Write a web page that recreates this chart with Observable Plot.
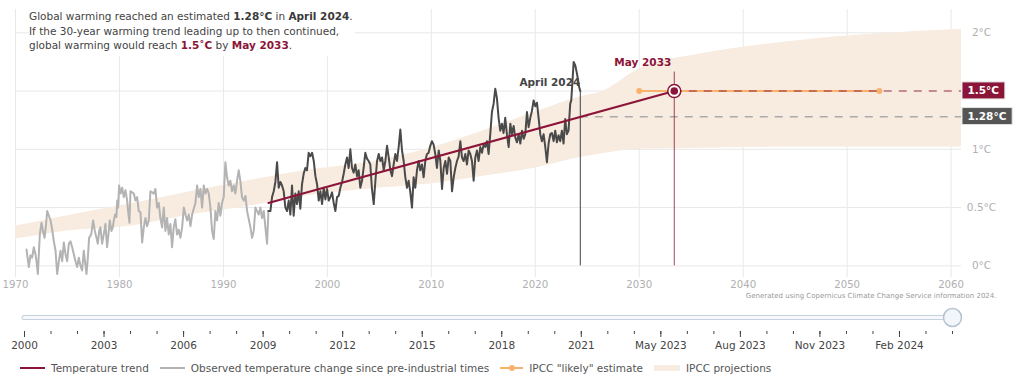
<!DOCTYPE html>
<html><head><meta charset="utf-8">
<script src="https://cdn.jsdelivr.net/npm/d3@7"></script>
<script src="https://cdn.jsdelivr.net/npm/@observablehq/plot@0.6"></script>
<style>
body{margin:0;background:#fff;font-family:"DejaVu Sans",Verdana,sans-serif;}
#wrap{position:relative;width:1024px;height:386px;overflow:hidden;background:#fff}
#main svg,#slider svg{display:block}
#note{position:absolute;left:29px;top:8px;font-size:10.5px;line-height:14.5px;color:#444;background:#fff;padding:1px 2px 3px 0;white-space:nowrap}
#note b{color:#3a3a3a}
#note b.r{color:#8b1538}
#legend{height:25px;display:flex;align-items:flex-start;padding-left:20px;font-size:10.5px;line-height:14px;color:#555;white-space:nowrap}
#legend .it{display:flex;align-items:center;margin-right:11px}
#legend .sw{width:25px;height:14px;margin-right:6px;position:relative}
#legend .sw i{position:absolute;left:0;right:0;top:6px;height:2px}
#legend .sw em{position:absolute;left:9px;top:4px;width:6px;height:6px;border-radius:50%}
#legend .sw s{position:absolute;left:0;right:0;top:4px;height:6px}
</style></head>
<body>
<div id="wrap">
  <div id="main"></div>
  <div id="note">Global warming reached an estimated <b>1.28°C</b> in <b>April 2024</b>.<br>If the 30-year warming trend leading up to then continued,<br>global warming would reach <b class="r">1.5˚C</b> by <b class="r">May 2033</b>.</div>
  <div id="slider"></div>
  <div id="legend"></div>
</div>
<script>
// ---------- data ----------
const obsYear = [
1971.06,1971.28,1971.44,1971.6,1971.76,1971.92,1972.02,1972.15,1972.34,1972.5,1972.66,1972.79,1972.92,
1973.05,1973.21,1973.37,1973.53,1973.69,1973.85,1974.01,1974.17,1974.33,1974.49,1974.65,1974.81,1974.97,
1975.13,1975.29,1975.45,1975.61,1975.77,1975.93,1976.09,1976.25,1976.41,1976.57,1976.83,1976.96,
1977.08,1977.28,1977.47,1977.63,1977.79,1977.92,1978.05,1978.17,1978.33,1978.49,1978.65,1978.81,1978.94,
1979.07,1979.23,1979.36,1979.46,1979.58,1979.71,1979.78,1979.87,1979.97,1980.1,1980.26,1980.42,1980.58,1980.74,1980.83,1980.96,
1981.06,1981.22,1981.38,1981.54,1981.70,1981.86,1982.02,1982.18,1982.34,1982.5,1982.66,1982.82,1982.98,
1983.14,1983.30,1983.46,1983.62,1983.78,1983.94,1984.1,1984.26,1984.42,1984.58,1984.74,1984.9,
1985.06,1985.22,1985.38,1985.54,1985.70,1985.86,1986.03,1986.19,1986.35,1986.51,1986.67,1986.83,1986.99,
1987.15,1987.31,1987.47,1987.63,1987.79,1987.95,1988.11,1988.27,1988.43,1988.59,1988.75,1988.91,
1989.07,1989.23,1989.39,1989.55,1989.71,1989.87,1990.03,1990.19,1990.35,1990.51,1990.67,1990.83,1990.99,
1991.15,1991.31,1991.47,1991.63,1991.79,1991.96,1992.12,1992.28,1992.44,1992.6,1992.76,1992.92,1993.08,
1993.4,1993.56,1993.72,1993.88,1994.04,1994.2,1994.33,
1994.52,1994.68,1994.84,1995.0,1995.16,1995.32,1995.48,1995.64,1995.8,1995.96,1996.12,1996.28,1996.44,1996.6,1996.76,1996.92,
1997.08,1997.24,1997.4,1997.56,1997.72,1997.88,1998.04,1998.2,1998.36,1998.53,1998.69,1998.85,
1999.01,1999.17,1999.33,1999.49,1999.65,1999.81,1999.97,2000.13,2000.29,2000.45,2000.61,2000.77,2000.93,
2001.09,2001.25,2001.41,2001.57,2001.73,2001.89,2002.05,2002.21,2002.37,2002.53,2002.69,2002.85,
2003.01,2003.17,2003.33,2003.49,2003.65,2003.81,2003.97,
2004.13,2004.29,2004.46,2004.62,2004.78,2004.94,2005.1,2005.26,2005.42,2005.58,2005.74,2005.9,
2006.06,2006.22,2006.38,2006.54,2006.7,2006.86,2007.02,2007.18,2007.34,2007.5,2007.66,2007.82,2007.98,
2008.14,2008.3,2008.46,2008.62,2008.78,2008.94,2009.1,2009.26,2009.42,2009.58,2009.74,2009.9,
2010.06,2010.22,2010.38,2010.54,2010.71,2010.87,2011.03,2011.19,2011.35,2011.51,2011.67,2011.83,2011.99,
2012.15,2012.31,2012.47,2012.63,2012.79,2012.95,2013.11,2013.27,2013.43,2013.59,2013.75,2013.91,
2014.07,2014.23,2014.39,2014.55,2014.71,2014.87,2015.03,
2015.19,2015.35,2015.51,2015.67,2015.83,2015.99,2016.15,2016.31,2016.47,2016.63,2016.79,2016.95,
2017.11,2017.27,2017.44,2017.6,2017.76,2017.92,2018.08,2018.24,2018.4,2018.56,2018.72,2018.88,
2019.04,2019.2,2019.36,2019.52,2019.68,2019.84,2020.0,2020.16,2020.32,2020.48,2020.64,2020.8,2020.96,
2021.12,2021.28,2021.44,2021.6,2021.76,2021.92,2022.08,2022.24,2022.4,2022.56,2022.72,2022.88,
2023.04,2023.2,2023.36,2023.46,2023.59,2023.69,2023.85,2024.01,2024.1,2024.23,2024.33
];
const obsValue = [
0.14,-0.01,0.09,0.07,0.16,0.10,0.04,-0.07,0.27,0.37,0.29,0.24,0.34,
0.47,0.43,0.39,0.31,0.21,0.13,-0.07,0.04,0.13,0.04,0.20,0.10,0.04,
0.19,0.21,0.16,0.10,0.04,-0.01,0.07,0.00,-0.04,0.13,-0.07,0.07,
0.24,0.27,0.39,0.30,0.24,0.19,0.30,0.33,0.19,0.27,0.36,0.16,0.27,
0.39,0.30,0.33,0.39,0.44,0.42,0.56,0.50,0.69,0.62,0.67,0.59,0.65,0.56,0.47,0.37,
0.64,0.63,0.62,0.56,0.59,0.47,0.46,0.20,0.33,0.41,0.34,0.39,0.64,
0.63,0.62,0.66,0.50,0.54,0.41,0.33,0.50,0.30,0.41,0.27,0.36,
0.16,0.33,0.40,0.27,0.31,0.24,0.33,0.50,0.44,0.39,0.44,0.34,0.44,
0.49,0.54,0.69,0.59,0.66,0.50,0.69,0.62,0.66,0.62,0.50,0.30,
0.23,0.47,0.39,0.54,0.43,0.54,0.59,0.89,0.76,0.69,0.73,0.64,0.69,
0.62,0.73,0.82,0.73,0.59,0.56,0.60,0.47,0.40,0.33,0.24,0.30,0.50,
0.44,0.50,0.41,0.47,0.33,0.19,0.47,
0.47,0.59,0.64,0.72,0.89,0.67,0.72,0.69,0.64,0.50,0.47,0.56,0.44,0.69,0.43,0.62,
0.53,0.64,0.49,0.70,0.79,0.84,0.82,0.97,0.94,0.97,0.90,0.77,
0.70,0.56,0.64,0.53,0.67,0.57,0.66,0.56,0.59,0.63,0.54,0.47,0.59,
0.60,0.67,0.72,0.79,0.87,0.93,0.84,1.00,0.84,0.80,0.87,0.77,
0.82,0.67,0.73,0.84,0.97,0.92,0.90,
0.87,0.66,0.53,0.73,0.90,0.96,0.90,0.93,0.82,0.90,1.03,0.93,
0.82,0.77,0.87,0.96,0.90,1.02,1.17,0.99,0.90,0.76,0.67,0.73,0.63,
0.50,0.76,0.67,0.82,0.90,0.82,0.87,0.76,0.90,0.96,0.97,1.03,
1.07,1.04,0.96,0.84,0.99,0.90,0.66,0.84,0.90,0.79,0.93,0.90,0.64,
0.76,0.84,0.90,0.94,1.07,0.93,0.90,0.96,0.87,0.99,0.96,0.90,
0.73,0.93,0.99,0.90,1.02,0.97,1.04,
1.02,1.07,0.96,1.13,1.32,1.39,1.52,1.44,1.27,1.16,1.22,1.14,
1.27,1.13,1.02,1.22,1.13,1.20,1.10,1.06,1.13,1.05,1.16,1.09,
1.13,1.32,1.19,1.27,1.33,1.42,1.37,1.40,1.27,1.13,1.07,1.13,1.02,
0.89,1.05,1.13,1.14,1.07,1.16,1.06,1.12,1.07,1.16,1.05,1.26,
1.13,1.16,1.39,1.42,1.60,1.75,1.72,1.65,1.60,1.53,1.50
];
const splitYear = 1994.33;            // start of the 30-year trend window
const trendYear = [1994.33, 2033.37];
const trendValue = [0.54, 1.5];
const likelyYear = [2030.0, 2053.1];   // IPCC "likely" range for 1.5°C
const likelyValue = [1.5, 1.5];
const targetYear = 2033.37, targetValue = 1.5, targetLabel = "May 2033";
const latestYear = 2024.33, latestTrend = 1.28, latestLabel = "April 2024";
const bandYear = [1970, 1975, 1981, 1987, 1993, 1998, 2004, 2009.5, 2015, 2020, 2024.3, 2026.3, 2030, 2036, 2045, 2061];
const bandLow  = [0.23, 0.30, 0.34, 0.44, 0.52, 0.60, 0.66, 0.70, 0.77, 0.84, 0.93, 0.96, 1.00, 1.01, 1.02, 1.02];
const bandHigh = [0.34, 0.43, 0.53, 0.64, 0.74, 0.82, 0.89, 1.00, 1.16, 1.32, 1.45, 1.49, 1.69, 1.82, 1.93, 2.03];
const badgeLabels = ["1.5°C", "1.28°C"];
const badgeValues = [1.5, 1.28];
const badgeColors = ["#8b1538", "#555555"];
const xDomain = [1970, 2061];
const decadeTicks = [1970, 1980, 1990, 2000, 2010, 2020, 2030, 2040, 2050, 2060];
const yGrid = [0, 0.5, 1, 1.5, 2];
const yTicks = [0, 0.5, 1, 2];           // 1.5 is covered by its badge
const yTickLabels = ["0°C", "0.5°C", "1°C", "2°C"];
const sliderNames = ["2000","2001","2002","2003","2004","2005","2006","2007","2008","2009","2010","2011","2012",
  "2013","2014","2015","2016","2017","2018","2019","2020","2021","2022","Apr 2023","May 2023","Jun 2023",
  "Jul 2023","Aug 2023","Sep 2023","Oct 2023","Nov 2023","Dec 2023","Jan 2024","Feb 2024","Mar 2024","Apr 2024"];
const sliderLabelEvery = 3;
const caption = "Generated using Copernicus Climate Change Service information 2024.";
const legendItems = ["Temperature trend", "Observed temperature change since pre-industrial times", "IPCC \"likely\" estimate", "IPCC projections"];

// ---------- build ----------
const RED = "#8b1538", DARK = "#4a4a4a", GREY = "#b3b3b3", ORANGE = "#f8b26c", BAND = "#f8ebe0";
const obs = obsYear.map((year, i) => ({year, value: obsValue[i]}));
const early = obs.filter(d => d.year <= splitYear);
const recent = obs.filter(d => d.year >= splitYear);
const last = obs[obs.length - 1];
const trend = trendYear.map((year, i) => ({year, value: trendValue[i]}));
const likely = likelyYear.map((year, i) => ({year, value: likelyValue[i]}));
const band = bandYear.map((year, i) => ({year, low: bandLow[i], high: bandHigh[i]}));
const badges = badgeLabels.map((label, i) => ({label, value: badgeValues[i], color: badgeColors[i]}));
const target = [{year: targetYear, value: targetValue, label: targetLabel}];

const main = Plot.plot({
  width: 1024, height: 305,
  marginLeft: 15, marginRight: 63, marginTop: 9, marginBottom: 28,
  x: {domain: xDomain},
  y: {domain: [-0.1, 2.2]},
  style: {fontFamily: "DejaVu Sans, Verdana, sans-serif", fontSize: "10.5px", background: "#fff"},
  marks: [
    Plot.gridX(decadeTicks, {stroke: "#e8e8e8", strokeOpacity: 1}),
    Plot.gridY(yGrid, {stroke: "#e8e8e8", strokeOpacity: 1}),
    Plot.areaY(band, {x: "year", y1: "low", y2: "high", fill: BAND, curve: "monotone-x"}),
    Plot.text([last], {x: "year", y: "value", text: () => latestLabel, textAnchor: "end", dy: -8, fontWeight: "bold", fill: "#444", fontSize: 10.5}),
    Plot.ruleY([latestTrend], {x1: latestYear, x2: xDomain[1], stroke: "#aaaaaa", strokeWidth: 1.5, strokeDasharray: "8,7"}),
    Plot.line(likely, {x: "year", y: "value", stroke: ORANGE, strokeWidth: 2}),
    Plot.dot(likely, {x: "year", y: "value", r: 3, fill: ORANGE}),
    Plot.ruleY([targetValue], {x1: targetYear, x2: xDomain[1], stroke: RED, strokeOpacity: 0.6, strokeWidth: 1.5, strokeDasharray: "8,7"}),
    Plot.ruleX(target, {x: "year", y1: "value", y2: 0, insetTop: -19, stroke: RED, strokeOpacity: 0.8, strokeWidth: 1}),
    Plot.ruleX([last], {x: "year", y1: "value", y2: 0, stroke: "#3c424c", strokeWidth: 1}),
    Plot.line(early, {x: "year", y: "value", stroke: GREY, strokeWidth: 2}),
    Plot.line(recent, {x: "year", y: "value", stroke: DARK, strokeWidth: 2}),
    Plot.line(trend, {x: "year", y: "value", stroke: RED, strokeWidth: 2}),
    Plot.dot(target, {x: "year", y: "value", r: 6.5, fill: "#fff", stroke: RED, strokeWidth: 1.5}),
    Plot.dot(target, {x: "year", y: "value", r: 3.8, fill: RED}),
    Plot.text(target, {x: "year", y: "value", text: "label", textAnchor: "end", dx: -3, dy: -28, fontWeight: "bold", fill: RED, fontSize: 10.5}),
    Plot.text(badges, {x: () => xDomain[1], y: "value", text: "label", textAnchor: "start", dx: 6, fill: "#fff", fontWeight: "bold", fontSize: 10.5}),
    Plot.axisX(decadeTicks, {anchor: "bottom", tickSize: 0, tickPadding: 3, tickFormat: "d", fill: "#b0b0b0", fontSize: 10.2, label: null}),
    Plot.axisY(yTicks, {anchor: "right", tickSize: 0, tickPadding: 20, textAnchor: "middle", tickFormat: (d) => yTickLabels[yTicks.indexOf(d)], fill: "#b0b0b0", fontSize: 10.5, label: null}),
    Plot.text([caption], {frameAnchor: "bottom-right", text: d => d, textAnchor: "end", dx: 35, dy: 20, fontSize: 7, fill: "#9a9a9a"})
  ]
});
document.getElementById("main").appendChild(main);

// badge backgrounds: a rect behind each white badge label
Array.from(main.querySelectorAll("text")).forEach(t => {
  const i = badgeLabels.indexOf(t.textContent);
  if (i < 0) return;
  const bb = t.getBBox();
  const r = document.createElementNS("http://www.w3.org/2000/svg", "rect");
  r.setAttribute("x", bb.x - 5.5);
  r.setAttribute("y", bb.y - 2.5);
  r.setAttribute("width", bb.width + 11);
  r.setAttribute("height", bb.height + 5);
  r.setAttribute("fill", badgeColors[i]);
  r.setAttribute("stroke", "#e4e4e4");
  r.setAttribute("stroke-width", 1);
  const tr = t.getAttribute("transform");
  if (tr) r.setAttribute("transform", tr);
  t.parentNode.insertBefore(r, t);
});

// ---------- range slider ----------
const idx = sliderNames.map((_, i) => i);
const majorIdx = idx.filter(i => i % sliderLabelEvery === 0 && i < idx.length - 1);
const handle = [{i: idx.length - 1, v: 1}];
const slider = Plot.plot({
  width: 1024, height: 56,
  marginLeft: 24, marginRight: 72, marginTop: 12, marginBottom: 30,
  x: {domain: [0, idx.length - 1]},
  y: {domain: [0, 1], axis: null},
  style: {fontFamily: "DejaVu Sans, Verdana, sans-serif", fontSize: "10.5px", background: "#fff"},
  marks: [
    Plot.ruleY([1], {x1: 0, x2: idx.length - 1, stroke: "#c6d2de", strokeWidth: 5, strokeLinecap: "round"}),
    Plot.ruleY([1], {x1: 0, x2: idx.length - 1, stroke: "#f6f8fb", strokeWidth: 3, strokeLinecap: "round"}),
    Plot.dot(handle, {x: "i", y: "v", r: 9, fill: "#f2f5f9", stroke: "#b6c3d2", strokeWidth: 1.5}),
    Plot.axisX(idx, {anchor: "bottom", tickSize: 3, tickFormat: () => "", stroke: "#444", label: null}),
    Plot.axisX(majorIdx, {anchor: "bottom", tickSize: 6, tickPadding: 4, tickFormat: i => sliderNames[i], fill: "#444", stroke: "#444", fontSize: 10.5, label: null})
  ]
});
document.getElementById("slider").appendChild(slider);

// ---------- legend ----------
const legendSwatches = [
  `<span class="sw"><i style="background:${RED}"></i></span>`,
  `<span class="sw"><i style="background:${GREY}"></i></span>`,
  `<span class="sw" style="width:23px"><i style="background:${ORANGE}"></i><em style="background:${ORANGE}"></em></span>`,
  `<span class="sw" style="width:26px"><s style="background:${BAND}"></s></span>`
];
document.getElementById("legend").innerHTML = legendItems.map((t, i) =>
  `<span class="it">${legendSwatches[i]}<span>${t}</span></span>`).join("");
</script>
</body></html>
